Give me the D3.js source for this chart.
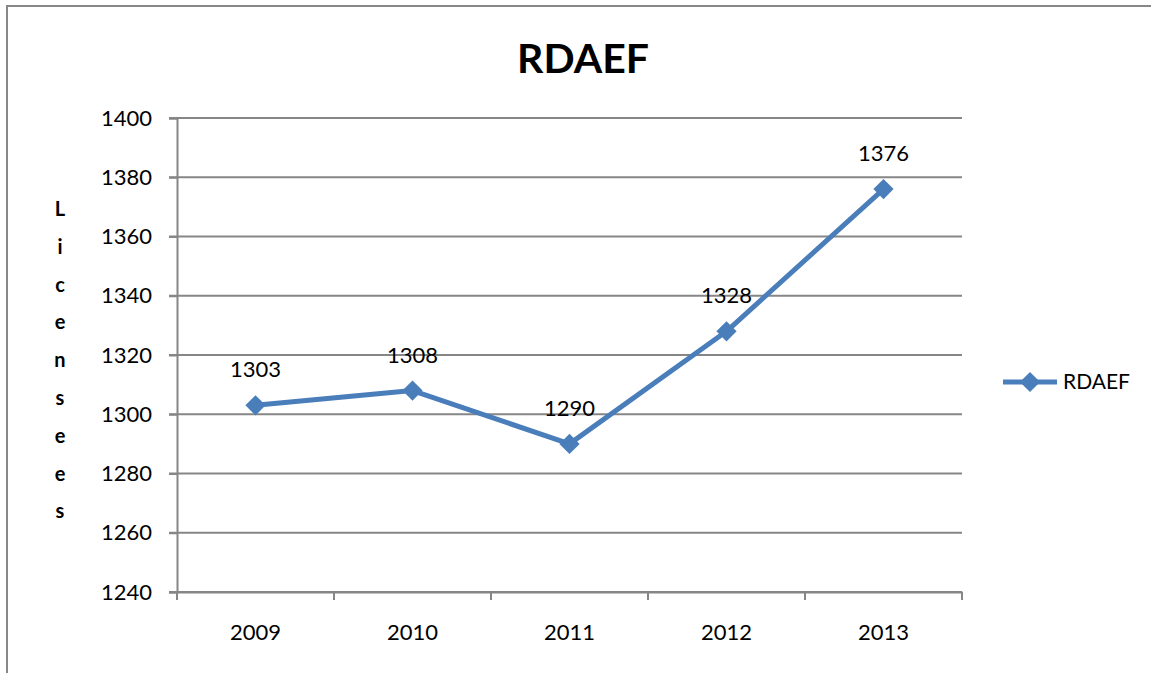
<!DOCTYPE html>
<html>
<head>
<meta charset="utf-8">
<script src="https://cdn.jsdelivr.net/npm/d3@7"></script>
<style>
  body { margin: 0; background: #fff; }
  svg { display: block; font-family: Lato, 'Open Sans', sans-serif; }
</style>
</head>
<body>
<div id="app"></div>
<script>
const years = ['2009', '2010', '2011', '2012', '2013'];
const licensees = [1303, 1308, 1290, 1328, 1376];
const yTicks = [1240, 1260, 1280, 1300, 1320, 1340, 1360, 1380, 1400];
const seriesName = 'RDAEF';
const axisTitle = 'Licensees';

const width = 1151;
const height = 673;
const margin = { top: 118, left: 177, right: 189, bottom: 81 };
const blue = '#4a7ebb';
const grid = '#868686';
const labelSize = 22;

const svg = d3.select('#app').append('svg')
  .attr('width', width)
  .attr('height', height);

// outer chart frame (runs off the right and bottom)
svg.append('rect')
  .attr('x', 7).attr('y', 6)
  .attr('width', width + 20).attr('height', height + 20)
  .attr('fill', 'none')
  .attr('stroke', '#888')
  .attr('stroke-width', 2);

const x = d3.scaleBand()
  .domain(years)
  .range([margin.left, width - margin.right]);

const y = d3.scaleLinear()
  .domain([1240, 1400])
  .range([height - margin.bottom, margin.top]);

// gridlines
svg.append('g')
  .selectAll('line')
  .data(yTicks)
  .enter().append('line')
  .attr('x1', margin.left - 8)
  .attr('x2', width - margin.right)
  .attr('y1', d => y(d))
  .attr('y2', d => y(d))
  .attr('stroke', grid)
  .attr('stroke-width', 2);

// y axis
const yAxis = svg.append('g')
  .attr('transform', `translate(${margin.left},0)`)
  .call(d3.axisLeft(y).tickValues(yTicks).tickFormat(d3.format('d')).tickSize(8).tickPadding(17));
yAxis.select('.domain').attr('stroke', grid).attr('stroke-width', 2);
yAxis.selectAll('.tick line').attr('stroke', grid).attr('stroke-width', 2);
yAxis.selectAll('text')
  .attr('font-size', labelSize)
  .attr('font-family', 'Lato, sans-serif')
  .attr('fill', '#000');

// x axis
const xAxis = svg.append('g')
  .attr('transform', `translate(0,${height - margin.bottom})`)
  .call(d3.axisBottom(x).tickSize(0).tickPadding(32));
xAxis.select('.domain').attr('stroke', grid).attr('stroke-width', 2);
xAxis.selectAll('text')
  .attr('font-size', labelSize)
  .attr('font-family', 'Lato, sans-serif')
  .attr('fill', '#000');

// category boundary ticks
const bounds = years.map(d => x(d)).concat([x.range()[1]]);
svg.append('g')
  .selectAll('line')
  .data(bounds)
  .enter().append('line')
  .attr('x1', d => d).attr('x2', d => d)
  .attr('y1', height - margin.bottom)
  .attr('y2', height - margin.bottom + 8)
  .attr('stroke', grid)
  .attr('stroke-width', 2);

const cx = d => x(d) + x.bandwidth() / 2;
const diamond = d3.symbol().type(d3.symbolDiamond2).size(260);

// series line
const line = d3.line()
  .x((d, i) => cx(years[i]))
  .y(d => y(d));

svg.append('path')
  .datum(licensees)
  .attr('d', line)
  .attr('fill', 'none')
  .attr('stroke', blue)
  .attr('stroke-width', 5)
  .attr('stroke-linejoin', 'round');

svg.append('g')
  .selectAll('path')
  .data(licensees)
  .enter().append('path')
  .attr('d', diamond)
  .attr('transform', (d, i) => `translate(${cx(years[i])},${y(d)})`)
  .attr('fill', blue);

// data labels
svg.append('g')
  .selectAll('text')
  .data(licensees)
  .enter().append('text')
  .attr('x', (d, i) => cx(years[i]))
  .attr('y', d => y(d) - 28)
  .attr('text-anchor', 'middle')
  .attr('font-size', labelSize)
  .text(d => d);

// title
svg.append('text')
  .attr('x', 583)
  .attr('y', 73)
  .attr('text-anchor', 'middle')
  .attr('font-size', 41)
  .attr('font-weight', 'bold')
  .text(seriesName);

// stacked vertical axis title
svg.append('g')
  .selectAll('text')
  .data(axisTitle.split(''))
  .enter().append('text')
  .attr('x', 60)
  .attr('y', (d, i) => 216 + i * 37.8)
  .attr('text-anchor', 'middle')
  .attr('font-size', 20)
  .attr('font-weight', 'bold')
  .text(d => d);

// legend
const legend = svg.append('g').attr('transform', 'translate(1003,382)');
legend.append('line')
  .attr('x1', 0).attr('x2', 54)
  .attr('stroke', blue)
  .attr('stroke-width', 5);
legend.append('path')
  .attr('d', diamond)
  .attr('transform', 'translate(27,0)')
  .attr('fill', blue);
legend.append('text')
  .attr('x', 60)
  .attr('y', 7)
  .attr('font-size', 21)
  .text(seriesName);
</script>
</body>
</html>
